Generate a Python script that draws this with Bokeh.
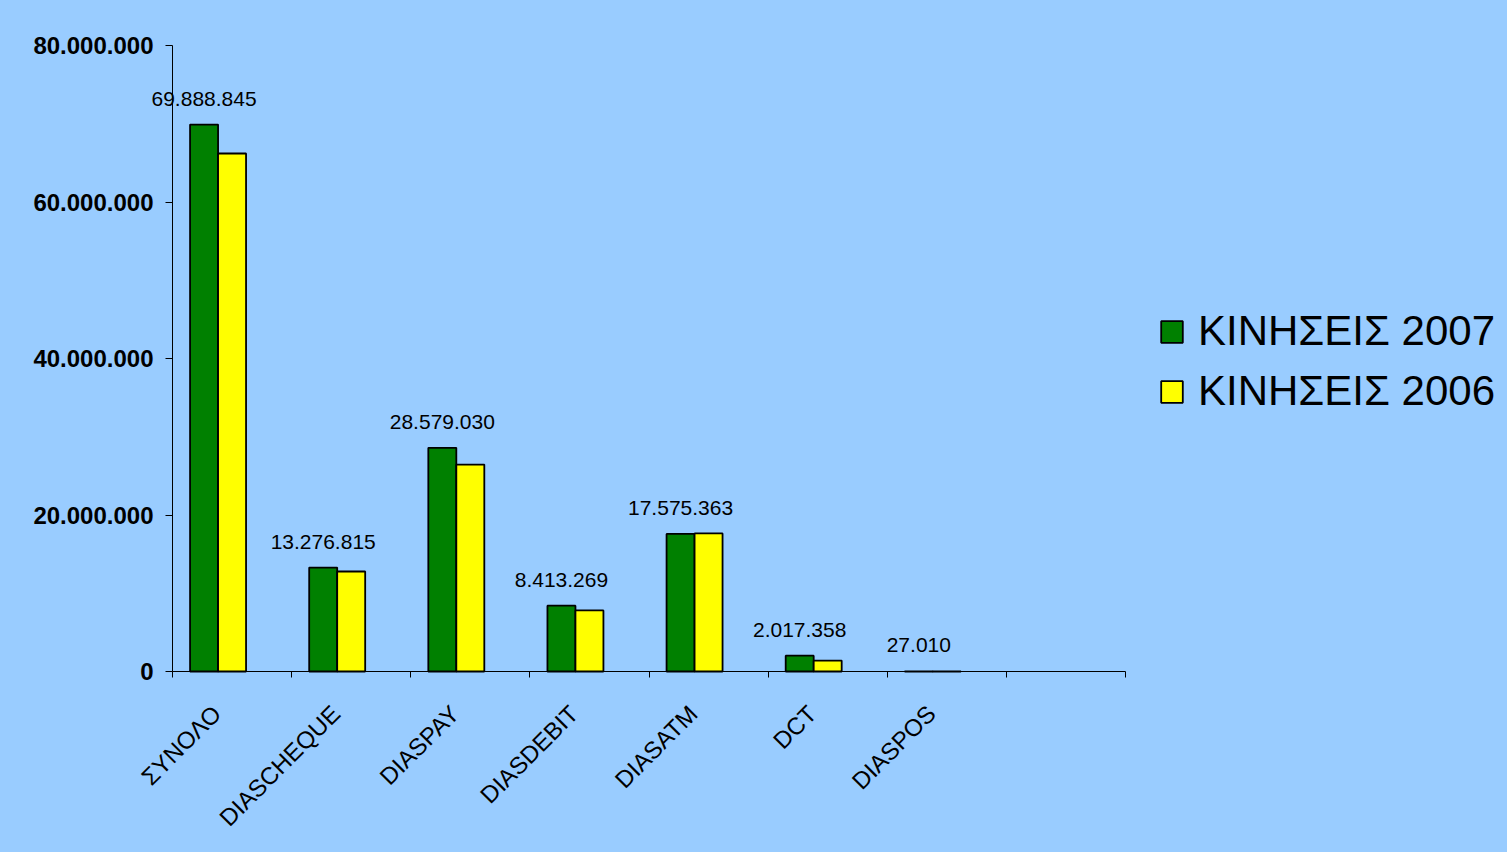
import math
from bokeh.plotting import figure
from bokeh.models import Range1d, FixedTicker, ColumnDataSource, LabelSet, Legend, LegendItem
from bokeh.transform import dodge
from bokeh.core.properties import value
from bokeh.embed import file_html
from bokeh.resources import INLINE
from bokeh.core.templates import get_env

# ---- data ----
categories = ["ΣΥΝΟΛΟ", "DIASCHEQUE", "DIASPAY", "DIASDEBIT", "DIASATM", "DCT", "DIASPOS", ""]
kiniseis_2007 = [69888845, 13276815, 28579030, 8413269, 17575363, 2017358, 27010]
kiniseis_2006 = [66200000, 12780000, 26450000, 7800000, 17640000, 1400000, 15000]
series_names = ["ΚΙΝΗΣΕΙΣ 2007", "ΚΙΝΗΣΕΙΣ 2006"]
y_ticks = [0, 20000000, 40000000, 60000000, 80000000]


def fmt(v):
    return f"{v:,}".replace(",", ".")


BG = "#99CCFF"
FONT = "Liberation Sans"
n_slots = len(categories)
n_bars = len(kiniseis_2007)
bar_width = 0.235
label_shift = 0.13

# layout (pixels); the frame spans the whole figure so no text gets clipped,
# and both axes are pinned inside it
FIG_W, FIG_H = 1499, 844
AXIS_X = 172              # where the y axis sits
AXIS_RIGHT = 1125         # end of the category axis
AXIS_TOP = 45             # pixel of the top y tick
AXIS_Y = 671              # pixel of the category axis
y_max = y_ticks[-1]
px_per_slot = (AXIS_RIGHT - AXIS_X) / n_slots
x_start = -AXIS_X / px_per_slot
x_end = (FIG_W - AXIS_X) / px_per_slot
units_per_px = y_max / (AXIS_Y - AXIS_TOP)
y_start = -(FIG_H - AXIS_Y) * units_per_px
y_end = y_max + AXIS_TOP * units_per_px

centers = [i + 0.5 for i in range(n_bars)]
src = ColumnDataSource(dict(
    center=centers,
    v2007=kiniseis_2007,
    v2006=kiniseis_2006,
    lab=[fmt(v) for v in kiniseis_2007],
))

p = figure(width=FIG_W, height=FIG_H,
           x_range=Range1d(x_start, x_end), y_range=Range1d(y_start, y_end),
           output_backend="svg", toolbar_location=None, tools="")
p.min_border_left = 0
p.min_border_top = 0
p.min_border_bottom = 0
p.min_border_right = 0
p.background_fill_color = BG
p.border_fill_color = BG
p.outline_line_color = None
p.xgrid.visible = False
p.ygrid.visible = False

r07 = p.vbar(x=dodge("center", -bar_width), top="v2007", width=bar_width, source=src,
             fill_color="#008000", line_color="black", line_width=1.8)
r06 = p.vbar(x=dodge("center", 0), top="v2006", width=bar_width, source=src,
             fill_color="#FFFF00", line_color="black", line_width=1.8)

labels = LabelSet(x=dodge("center", -bar_width), y="v2007", text="lab", source=src,
                  y_offset=19, text_align="center", text_baseline="alphabetic",
                  text_font=value(FONT), text_font_size="21px", text_color="black")
p.add_layout(labels)

# x axis: labels near slot centres, tick marks at slot boundaries
xa = p.xaxis[0]
xa.fixed_location = 0
xa.bounds = (0, n_slots)
xa.ticker = FixedTicker(ticks=[i + 0.5 - label_shift for i in range(n_slots)],
                        minor_ticks=list(range(n_slots + 1)))
xa.major_label_overrides = {i + 0.5 - label_shift: c for i, c in enumerate(categories)}
xa.major_tick_in = 0
xa.major_tick_out = 0
xa.minor_tick_in = 0
xa.minor_tick_out = 6
xa.minor_tick_line_color = "black"
xa.axis_line_color = "black"
xa.major_label_orientation = math.pi / 4
xa.major_label_standoff = 32
xa.major_label_text_font = FONT
xa.major_label_text_font_size = "24px"
xa.major_label_text_color = "black"

ya = p.yaxis[0]
ya.fixed_location = 0
ya.bounds = (0, y_max)
ya.ticker = FixedTicker(ticks=y_ticks, minor_ticks=[])
ya.major_label_overrides = {t: fmt(t) for t in y_ticks}
ya.major_tick_in = 0
ya.major_tick_out = 7
ya.major_tick_line_color = "black"
ya.axis_line_color = "black"
ya.major_label_standoff = 12
ya.major_label_text_font = FONT
ya.major_label_text_font_style = "bold"
ya.major_label_text_font_size = "24px"
ya.major_label_text_color = "black"

legend = Legend(items=[LegendItem(label=series_names[0], renderers=[r07]),
                       LegendItem(label=series_names[1], renderers=[r06])],
                location=(1158, 256 + FIG_H - AXIS_Y), orientation="vertical",
                glyph_width=27, glyph_height=27, label_standoff=13, spacing=12,
                padding=0, margin=0, border_line_color=None, background_fill_alpha=0,
                label_text_font=FONT, label_text_font_size="42px", label_text_color="black")
p.add_layout(legend)

tmpl = get_env().from_string(
    '{% extends "file.html" %}{% block preamble %}<style>html, body { background: #99CCFF; }</style>{% endblock %}'
)
open("out.html", "w").write(file_html(p, INLINE, template=tmpl))
